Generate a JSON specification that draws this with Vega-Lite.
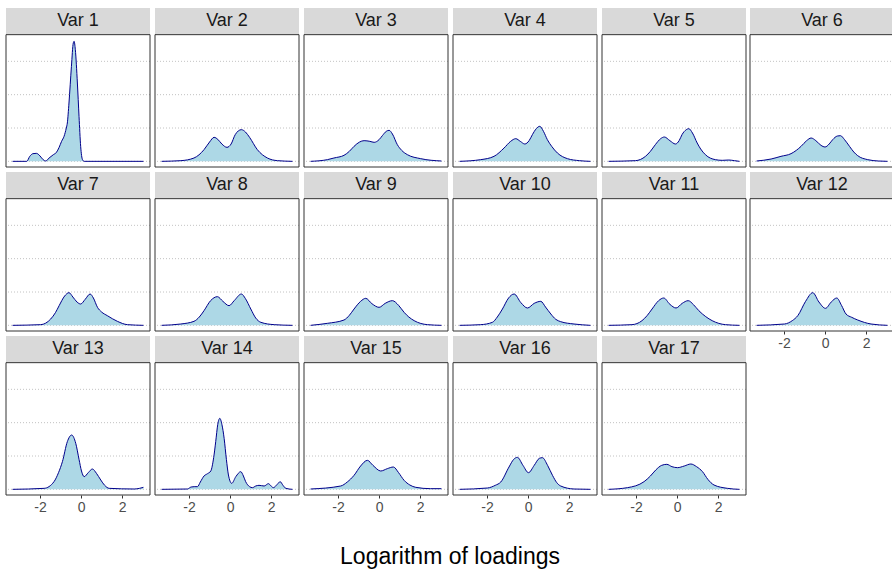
{
"$schema": "https://vega.github.io/schema/vega-lite/v6.json",
"background": "white",
"padding": {"left": 5, "top": 8, "right": 0, "bottom": 0},
"spacing": 2,
"config": {"font": "Liberation Sans", "header": {"labels": false, "title": null, "labelFontSize": 0, "labelPadding": 0, "titlePadding": 0}},
"title": {"text": "Logarithm of loadings", "orient": "bottom", "anchor": "middle", "fontSize": 23, "fontWeight": "normal", "color": "#000000", "baseline": "top", "offset": 32},
"data": {"values": [
{"v":"Var 1","x":-3.34,"y":0},{"v":"Var 1","x":-2.65,"y":0},{"v":"Var 1","x":-2.5,"y":0.15},{"v":"Var 1","x":-2.35,"y":0.23},{"v":"Var 1","x":-2.18,"y":0.24},{"v":"Var 1","x":-2.0,"y":0.16},{"v":"Var 1","x":-1.85,"y":0.05},{"v":"Var 1","x":-1.72,"y":0.01},{"v":"Var 1","x":-1.56,"y":0.1},{"v":"Var 1","x":-1.35,"y":0.2},{"v":"Var 1","x":-1.2,"y":0.27},{"v":"Var 1","x":-1.07,"y":0.42},{"v":"Var 1","x":-0.95,"y":0.6},{"v":"Var 1","x":-0.83,"y":0.75},{"v":"Var 1","x":-0.72,"y":1.0},{"v":"Var 1","x":-0.67,"y":1.15},{"v":"Var 1","x":-0.59,"y":1.75},{"v":"Var 1","x":-0.47,"y":2.85},{"v":"Var 1","x":-0.38,"y":3.55},{"v":"Var 1","x":-0.34,"y":3.6},{"v":"Var 1","x":-0.28,"y":3.35},{"v":"Var 1","x":-0.18,"y":2.35},{"v":"Var 1","x":-0.1,"y":1.35},{"v":"Var 1","x":-0.02,"y":0.45},{"v":"Var 1","x":0.07,"y":0.05},{"v":"Var 1","x":0.15,"y":0},{"v":"Var 1","x":3.04,"y":0},
{"v":"Var 2","x":-3.34,"y":0},{"v":"Var 2","x":-2.4,"y":0.02},{"v":"Var 2","x":-1.76,"y":0.1},{"v":"Var 2","x":-1.27,"y":0.35},{"v":"Var 2","x":-1.0,"y":0.58},{"v":"Var 2","x":-0.78,"y":0.72},{"v":"Var 2","x":-0.6,"y":0.66},{"v":"Var 2","x":-0.4,"y":0.52},{"v":"Var 2","x":-0.15,"y":0.42},{"v":"Var 2","x":0.05,"y":0.52},{"v":"Var 2","x":0.25,"y":0.8},{"v":"Var 2","x":0.55,"y":0.95},{"v":"Var 2","x":0.75,"y":0.88},{"v":"Var 2","x":0.95,"y":0.72},{"v":"Var 2","x":1.33,"y":0.35},{"v":"Var 2","x":1.82,"y":0.1},{"v":"Var 2","x":2.31,"y":0.02},{"v":"Var 2","x":3.04,"y":0},
{"v":"Var 3","x":-3.34,"y":0},{"v":"Var 3","x":-2.52,"y":0.05},{"v":"Var 3","x":-2.2,"y":0.1},{"v":"Var 3","x":-1.71,"y":0.18},{"v":"Var 3","x":-1.45,"y":0.3},{"v":"Var 3","x":-1.22,"y":0.45},{"v":"Var 3","x":-0.95,"y":0.58},{"v":"Var 3","x":-0.73,"y":0.62},{"v":"Var 3","x":-0.45,"y":0.6},{"v":"Var 3","x":-0.24,"y":0.57},{"v":"Var 3","x":0.0,"y":0.65},{"v":"Var 3","x":0.16,"y":0.77},{"v":"Var 3","x":0.35,"y":0.9},{"v":"Var 3","x":0.49,"y":0.93},{"v":"Var 3","x":0.65,"y":0.82},{"v":"Var 3","x":0.89,"y":0.5},{"v":"Var 3","x":1.1,"y":0.33},{"v":"Var 3","x":1.38,"y":0.2},{"v":"Var 3","x":2.03,"y":0.08},{"v":"Var 3","x":3.04,"y":0.01},
{"v":"Var 4","x":-3.34,"y":0},{"v":"Var 4","x":-2.31,"y":0.05},{"v":"Var 4","x":-1.66,"y":0.15},{"v":"Var 4","x":-1.17,"y":0.4},{"v":"Var 4","x":-0.85,"y":0.6},{"v":"Var 4","x":-0.6,"y":0.68},{"v":"Var 4","x":-0.38,"y":0.6},{"v":"Var 4","x":-0.16,"y":0.52},{"v":"Var 4","x":0.05,"y":0.62},{"v":"Var 4","x":0.21,"y":0.8},{"v":"Var 4","x":0.4,"y":0.98},{"v":"Var 4","x":0.57,"y":1.05},{"v":"Var 4","x":0.75,"y":0.9},{"v":"Var 4","x":0.94,"y":0.65},{"v":"Var 4","x":1.15,"y":0.45},{"v":"Var 4","x":1.43,"y":0.25},{"v":"Var 4","x":1.92,"y":0.08},{"v":"Var 4","x":2.5,"y":0.02},{"v":"Var 4","x":3.04,"y":0},
{"v":"Var 5","x":-3.34,"y":0},{"v":"Var 5","x":-2.03,"y":0.02},{"v":"Var 5","x":-1.54,"y":0.15},{"v":"Var 5","x":-1.3,"y":0.3},{"v":"Var 5","x":-1.06,"y":0.5},{"v":"Var 5","x":-0.8,"y":0.68},{"v":"Var 5","x":-0.62,"y":0.73},{"v":"Var 5","x":-0.35,"y":0.62},{"v":"Var 5","x":-0.08,"y":0.52},{"v":"Var 5","x":0.1,"y":0.62},{"v":"Var 5","x":0.24,"y":0.8},{"v":"Var 5","x":0.45,"y":0.95},{"v":"Var 5","x":0.57,"y":0.98},{"v":"Var 5","x":0.75,"y":0.85},{"v":"Var 5","x":0.98,"y":0.55},{"v":"Var 5","x":1.15,"y":0.37},{"v":"Var 5","x":1.38,"y":0.2},{"v":"Var 5","x":1.87,"y":0.05},{"v":"Var 5","x":2.2,"y":0.03},{"v":"Var 5","x":2.52,"y":0.04},{"v":"Var 5","x":2.8,"y":0.02},{"v":"Var 5","x":3.04,"y":0},
{"v":"Var 6","x":-3.34,"y":0.01},{"v":"Var 6","x":-2.63,"y":0.07},{"v":"Var 6","x":-2.15,"y":0.15},{"v":"Var 6","x":-1.66,"y":0.23},{"v":"Var 6","x":-1.4,"y":0.33},{"v":"Var 6","x":-1.17,"y":0.45},{"v":"Var 6","x":-0.9,"y":0.62},{"v":"Var 6","x":-0.68,"y":0.7},{"v":"Var 6","x":-0.45,"y":0.62},{"v":"Var 6","x":-0.2,"y":0.48},{"v":"Var 6","x":0.0,"y":0.43},{"v":"Var 6","x":0.2,"y":0.52},{"v":"Var 6","x":0.37,"y":0.65},{"v":"Var 6","x":0.6,"y":0.76},{"v":"Var 6","x":0.75,"y":0.77},{"v":"Var 6","x":0.95,"y":0.65},{"v":"Var 6","x":1.19,"y":0.45},{"v":"Var 6","x":1.4,"y":0.28},{"v":"Var 6","x":1.59,"y":0.17},{"v":"Var 6","x":2.08,"y":0.05},{"v":"Var 6","x":2.6,"y":0.01},{"v":"Var 6","x":3.04,"y":0},
{"v":"Var 7","x":-3.34,"y":0},{"v":"Var 7","x":-1.97,"y":0.02},{"v":"Var 7","x":-1.48,"y":0.19},{"v":"Var 7","x":-1.25,"y":0.38},{"v":"Var 7","x":-1.07,"y":0.59},{"v":"Var 7","x":-0.8,"y":0.88},{"v":"Var 7","x":-0.59,"y":0.98},{"v":"Var 7","x":-0.4,"y":0.85},{"v":"Var 7","x":-0.2,"y":0.7},{"v":"Var 7","x":-0.02,"y":0.64},{"v":"Var 7","x":0.2,"y":0.78},{"v":"Var 7","x":0.44,"y":0.94},{"v":"Var 7","x":0.6,"y":0.82},{"v":"Var 7","x":0.8,"y":0.54},{"v":"Var 7","x":1.0,"y":0.4},{"v":"Var 7","x":1.28,"y":0.29},{"v":"Var 7","x":1.77,"y":0.12},{"v":"Var 7","x":2.26,"y":0.02},{"v":"Var 7","x":3.04,"y":0},
{"v":"Var 8","x":-3.34,"y":0},{"v":"Var 8","x":-2.4,"y":0.04},{"v":"Var 8","x":-1.76,"y":0.12},{"v":"Var 8","x":-1.5,"y":0.25},{"v":"Var 8","x":-1.27,"y":0.44},{"v":"Var 8","x":-0.95,"y":0.74},{"v":"Var 8","x":-0.62,"y":0.86},{"v":"Var 8","x":-0.35,"y":0.72},{"v":"Var 8","x":-0.05,"y":0.59},{"v":"Var 8","x":0.2,"y":0.74},{"v":"Var 8","x":0.55,"y":0.94},{"v":"Var 8","x":0.75,"y":0.8},{"v":"Var 8","x":1.01,"y":0.49},{"v":"Var 8","x":1.25,"y":0.22},{"v":"Var 8","x":1.5,"y":0.09},{"v":"Var 8","x":2.15,"y":0.02},{"v":"Var 8","x":3.04,"y":0},
{"v":"Var 9","x":-3.34,"y":0},{"v":"Var 9","x":-2.52,"y":0.06},{"v":"Var 9","x":-1.71,"y":0.16},{"v":"Var 9","x":-1.45,"y":0.3},{"v":"Var 9","x":-1.22,"y":0.49},{"v":"Var 9","x":-0.9,"y":0.72},{"v":"Var 9","x":-0.65,"y":0.81},{"v":"Var 9","x":-0.35,"y":0.65},{"v":"Var 9","x":0.0,"y":0.54},{"v":"Var 9","x":0.3,"y":0.66},{"v":"Var 9","x":0.65,"y":0.74},{"v":"Var 9","x":0.95,"y":0.6},{"v":"Var 9","x":1.22,"y":0.39},{"v":"Var 9","x":1.45,"y":0.25},{"v":"Var 9","x":1.71,"y":0.14},{"v":"Var 9","x":2.36,"y":0.02},{"v":"Var 9","x":3.04,"y":0},
{"v":"Var 10","x":-3.34,"y":0},{"v":"Var 10","x":-2.31,"y":0.02},{"v":"Var 10","x":-1.74,"y":0.09},{"v":"Var 10","x":-1.5,"y":0.25},{"v":"Var 10","x":-1.25,"y":0.49},{"v":"Var 10","x":-0.95,"y":0.82},{"v":"Var 10","x":-0.68,"y":0.94},{"v":"Var 10","x":-0.35,"y":0.68},{"v":"Var 10","x":-0.03,"y":0.52},{"v":"Var 10","x":0.3,"y":0.66},{"v":"Var 10","x":0.62,"y":0.72},{"v":"Var 10","x":0.85,"y":0.55},{"v":"Var 10","x":1.11,"y":0.34},{"v":"Var 10","x":1.35,"y":0.18},{"v":"Var 10","x":1.59,"y":0.11},{"v":"Var 10","x":2.24,"y":0.04},{"v":"Var 10","x":3.04,"y":0},
{"v":"Var 11","x":-3.34,"y":0},{"v":"Var 11","x":-2.2,"y":0.02},{"v":"Var 11","x":-1.71,"y":0.14},{"v":"Var 11","x":-1.45,"y":0.3},{"v":"Var 11","x":-1.22,"y":0.49},{"v":"Var 11","x":-0.9,"y":0.74},{"v":"Var 11","x":-0.65,"y":0.82},{"v":"Var 11","x":-0.35,"y":0.63},{"v":"Var 11","x":-0.05,"y":0.52},{"v":"Var 11","x":0.25,"y":0.66},{"v":"Var 11","x":0.54,"y":0.74},{"v":"Var 11","x":0.8,"y":0.62},{"v":"Var 11","x":1.06,"y":0.44},{"v":"Var 11","x":1.4,"y":0.26},{"v":"Var 11","x":1.71,"y":0.14},{"v":"Var 11","x":2.36,"y":0.02},{"v":"Var 11","x":3.04,"y":0},
{"v":"Var 12","x":-3.34,"y":0},{"v":"Var 12","x":-1.98,"y":0.04},{"v":"Var 12","x":-1.6,"y":0.14},{"v":"Var 12","x":-1.33,"y":0.29},{"v":"Var 12","x":-0.95,"y":0.72},{"v":"Var 12","x":-0.6,"y":0.98},{"v":"Var 12","x":-0.3,"y":0.7},{"v":"Var 12","x":0.02,"y":0.51},{"v":"Var 12","x":0.3,"y":0.7},{"v":"Var 12","x":0.57,"y":0.82},{"v":"Var 12","x":0.8,"y":0.6},{"v":"Var 12","x":1.02,"y":0.34},{"v":"Var 12","x":1.3,"y":0.24},{"v":"Var 12","x":1.59,"y":0.16},{"v":"Var 12","x":2.24,"y":0.04},{"v":"Var 12","x":3.04,"y":0},
{"v":"Var 13","x":-3.34,"y":0},{"v":"Var 13","x":-1.8,"y":0.03},{"v":"Var 13","x":-1.32,"y":0.23},{"v":"Var 13","x":-1.1,"y":0.5},{"v":"Var 13","x":-0.91,"y":0.83},{"v":"Var 13","x":-0.67,"y":1.43},{"v":"Var 13","x":-0.46,"y":1.63},{"v":"Var 13","x":-0.26,"y":1.38},{"v":"Var 13","x":-0.1,"y":0.9},{"v":"Var 13","x":0.02,"y":0.55},{"v":"Var 13","x":0.15,"y":0.38},{"v":"Var 13","x":0.35,"y":0.5},{"v":"Var 13","x":0.55,"y":0.61},{"v":"Var 13","x":0.75,"y":0.48},{"v":"Var 13","x":0.96,"y":0.28},{"v":"Var 13","x":1.15,"y":0.12},{"v":"Var 13","x":1.37,"y":0.03},{"v":"Var 13","x":2.59,"y":0.01},{"v":"Var 13","x":2.85,"y":0.03},{"v":"Var 13","x":3.04,"y":0.06},
{"v":"Var 14","x":-3.34,"y":0},{"v":"Var 14","x":-2.08,"y":0.01},{"v":"Var 14","x":-1.9,"y":0.07},{"v":"Var 14","x":-1.75,"y":0.08},{"v":"Var 14","x":-1.59,"y":0.08},{"v":"Var 14","x":-1.45,"y":0.22},{"v":"Var 14","x":-1.27,"y":0.4},{"v":"Var 14","x":-1.1,"y":0.47},{"v":"Var 14","x":-0.94,"y":0.55},{"v":"Var 14","x":-0.8,"y":0.95},{"v":"Var 14","x":-0.7,"y":1.43},{"v":"Var 14","x":-0.6,"y":1.95},{"v":"Var 14","x":-0.5,"y":2.13},{"v":"Var 14","x":-0.4,"y":1.95},{"v":"Var 14","x":-0.29,"y":1.53},{"v":"Var 14","x":-0.18,"y":0.9},{"v":"Var 14","x":-0.08,"y":0.43},{"v":"Var 14","x":0.08,"y":0.18},{"v":"Var 14","x":0.28,"y":0.38},{"v":"Var 14","x":0.52,"y":0.53},{"v":"Var 14","x":0.65,"y":0.4},{"v":"Var 14","x":0.76,"y":0.23},{"v":"Var 14","x":0.95,"y":0.08},{"v":"Var 14","x":1.09,"y":0.05},{"v":"Var 14","x":1.25,"y":0.1},{"v":"Var 14","x":1.41,"y":0.12},{"v":"Var 14","x":1.66,"y":0.1},{"v":"Var 14","x":1.87,"y":0.17},{"v":"Var 14","x":2.0,"y":0.1},{"v":"Var 14","x":2.11,"y":0.05},{"v":"Var 14","x":2.3,"y":0.15},{"v":"Var 14","x":2.44,"y":0.23},{"v":"Var 14","x":2.58,"y":0.12},{"v":"Var 14","x":2.72,"y":0.03},{"v":"Var 14","x":3.04,"y":0},
{"v":"Var 15","x":-3.34,"y":0.01},{"v":"Var 15","x":-1.87,"y":0.1},{"v":"Var 15","x":-1.55,"y":0.22},{"v":"Var 15","x":-1.22,"y":0.42},{"v":"Var 15","x":-0.9,"y":0.7},{"v":"Var 15","x":-0.57,"y":0.87},{"v":"Var 15","x":-0.3,"y":0.72},{"v":"Var 15","x":0.08,"y":0.55},{"v":"Var 15","x":0.4,"y":0.62},{"v":"Var 15","x":0.7,"y":0.67},{"v":"Var 15","x":0.95,"y":0.5},{"v":"Var 15","x":1.22,"y":0.27},{"v":"Var 15","x":1.5,"y":0.13},{"v":"Var 15","x":1.79,"y":0.06},{"v":"Var 15","x":2.5,"y":0.02},{"v":"Var 15","x":3.04,"y":0.02},
{"v":"Var 16","x":-3.34,"y":0},{"v":"Var 16","x":-1.98,"y":0.04},{"v":"Var 16","x":-1.6,"y":0.12},{"v":"Var 16","x":-1.33,"y":0.22},{"v":"Var 16","x":-0.93,"y":0.67},{"v":"Var 16","x":-0.7,"y":0.9},{"v":"Var 16","x":-0.52,"y":0.96},{"v":"Var 16","x":-0.25,"y":0.72},{"v":"Var 16","x":0.02,"y":0.5},{"v":"Var 16","x":0.3,"y":0.72},{"v":"Var 16","x":0.55,"y":0.93},{"v":"Var 16","x":0.7,"y":0.95},{"v":"Var 16","x":0.95,"y":0.72},{"v":"Var 16","x":1.19,"y":0.42},{"v":"Var 16","x":1.4,"y":0.2},{"v":"Var 16","x":1.59,"y":0.1},{"v":"Var 16","x":2.24,"y":0.01},{"v":"Var 16","x":3.04,"y":0},
{"v":"Var 17","x":-3.34,"y":0},{"v":"Var 17","x":-2.42,"y":0.05},{"v":"Var 17","x":-1.61,"y":0.23},{"v":"Var 17","x":-1.3,"y":0.4},{"v":"Var 17","x":-1.04,"y":0.58},{"v":"Var 17","x":-0.75,"y":0.72},{"v":"Var 17","x":-0.5,"y":0.75},{"v":"Var 17","x":-0.25,"y":0.68},{"v":"Var 17","x":0.02,"y":0.65},{"v":"Var 17","x":0.35,"y":0.7},{"v":"Var 17","x":0.67,"y":0.76},{"v":"Var 17","x":0.95,"y":0.68},{"v":"Var 17","x":1.24,"y":0.53},{"v":"Var 17","x":1.5,"y":0.3},{"v":"Var 17","x":1.8,"y":0.13},{"v":"Var 17","x":2.45,"y":0.03},{"v":"Var 17","x":3.04,"y":0}
]},
"hconcat": [
{
"transform": [{"filter": "datum.v != 'Var 6' && datum.v != 'Var 12'"}],
"bounds": "flush",
"facet": {"field": "v", "type": "nominal", "sort": ["Var 1","Var 2","Var 3","Var 4","Var 5","Var 7","Var 8","Var 9","Var 10","Var 11","Var 13","Var 14","Var 15","Var 16","Var 17"], "header": {"title": null, "labels": false, "labelFontSize": 0, "labelPadding": 0}, "title": null},
"columns": 5,
"spacing": {"row": 5, "column": 5},
"spec": {
  "width": 144,
  "height": 159,
  "view": {"stroke": null},
  "layer": [
    {"transform": [{"filter": "datum.x == -3.34"}], "mark": {"type": "rule", "color": "#B3B3B3", "strokeDash": [1, 2], "strokeWidth": 0.8}, "encoding": {"y": {"datum": 0, "type": "quantitative", "axis": null}}},
    {"transform": [{"filter": "datum.x == -3.34"}], "mark": {"type": "rule", "color": "#B3B3B3", "strokeDash": [1, 2], "strokeWidth": 0.8}, "encoding": {"y": {"datum": 1, "type": "quantitative", "axis": null}}},
    {"transform": [{"filter": "datum.x == -3.34"}], "mark": {"type": "rule", "color": "#B3B3B3", "strokeDash": [1, 2], "strokeWidth": 0.8}, "encoding": {"y": {"datum": 2, "type": "quantitative", "axis": null}}},
    {"transform": [{"filter": "datum.x == -3.34"}], "mark": {"type": "rule", "color": "#B3B3B3", "strokeDash": [1, 2], "strokeWidth": 0.8}, "encoding": {"y": {"datum": 3, "type": "quantitative", "axis": null}}},
    {
      "mark": {"type": "area", "color": "#ADD8E6", "opacity": 1, "fillOpacity": 1, "interpolate": "monotone", "line": {"color": "#00008B", "strokeWidth": 1}},
      "encoding": {
        "x": {"field": "x", "type": "quantitative", "scale": {"domain": [-3.66, 3.36], "nice": false, "zero": false},
              "axis": {"title": null, "values": [-2, 0, 2], "labelExpr": "datum.value < 0 ? '-' + abs(datum.value) : '' + datum.value", "grid": false, "domain": false, "tickColor": "#333333", "tickSize": 3, "labelColor": "#4D4D4D", "labelFontSize": 14, "labelPadding": 2}},
        "y": {"field": "y", "type": "quantitative", "scale": {"domain": [-0.17, 4.6], "nice": false, "zero": false}, "axis": null}
      }
    },
    {
      "transform": [{"filter": "datum.x == -3.34"}],
      "mark": {"type": "rect", "fill": "#D9D9D9", "strokeWidth": 0},
      "encoding": {"x": {"datum": -3.66, "type": "quantitative", "title": null}, "x2": {"datum": 3.36}, "y": {"datum": 3.8, "type": "quantitative", "axis": null}, "y2": {"datum": 4.6}}
    },
    {
      "transform": [{"filter": "datum.x == -3.34"}],
      "mark": {"type": "rect", "fill": null, "fillOpacity": 0, "stroke": "#333333", "strokeWidth": 1},
      "encoding": {"x": {"datum": -3.66, "type": "quantitative", "title": null}, "x2": {"datum": 3.36}, "y": {"datum": -0.17, "type": "quantitative", "axis": null}, "y2": {"datum": 3.8}}
    },
    {
      "transform": [{"filter": "datum.x == -3.34"}],
      "mark": {"type": "text", "fontSize": 18, "color": "#1A1A1A", "baseline": "middle", "align": "center"},
      "encoding": {"x": {"datum": -0.15, "type": "quantitative", "title": null}, "y": {"datum": 4.2, "type": "quantitative", "axis": null}, "text": {"field": "v"}}
    }
  ]
}
},
{
"transform": [{"filter": "datum.v == 'Var 6' || datum.v == 'Var 12'"}],
"bounds": "flush",
"facet": {"field": "v", "type": "nominal", "sort": ["Var 6","Var 12"], "header": {"title": null, "labels": false, "labelFontSize": 0, "labelPadding": 0}, "title": null},
"columns": 1,
"spacing": {"row": 5, "column": 5},
"spec": {
  "width": 144,
  "height": 159,
  "view": {"stroke": null},
  "layer": [
    {"transform": [{"filter": "datum.x == -3.34"}], "mark": {"type": "rule", "color": "#B3B3B3", "strokeDash": [1, 2], "strokeWidth": 0.8}, "encoding": {"y": {"datum": 0, "type": "quantitative", "axis": null}}},
    {"transform": [{"filter": "datum.x == -3.34"}], "mark": {"type": "rule", "color": "#B3B3B3", "strokeDash": [1, 2], "strokeWidth": 0.8}, "encoding": {"y": {"datum": 1, "type": "quantitative", "axis": null}}},
    {"transform": [{"filter": "datum.x == -3.34"}], "mark": {"type": "rule", "color": "#B3B3B3", "strokeDash": [1, 2], "strokeWidth": 0.8}, "encoding": {"y": {"datum": 2, "type": "quantitative", "axis": null}}},
    {"transform": [{"filter": "datum.x == -3.34"}], "mark": {"type": "rule", "color": "#B3B3B3", "strokeDash": [1, 2], "strokeWidth": 0.8}, "encoding": {"y": {"datum": 3, "type": "quantitative", "axis": null}}},
    {
      "mark": {"type": "area", "color": "#ADD8E6", "opacity": 1, "fillOpacity": 1, "interpolate": "monotone", "line": {"color": "#00008B", "strokeWidth": 1}},
      "encoding": {
        "x": {"field": "x", "type": "quantitative", "scale": {"domain": [-3.66, 3.36], "nice": false, "zero": false},
              "axis": {"title": null, "values": [-2, 0, 2], "labelExpr": "datum.value < 0 ? '-' + abs(datum.value) : '' + datum.value", "grid": false, "domain": false, "tickColor": "#333333", "tickSize": 3, "labelColor": "#4D4D4D", "labelFontSize": 14, "labelPadding": 2}},
        "y": {"field": "y", "type": "quantitative", "scale": {"domain": [-0.17, 4.6], "nice": false, "zero": false}, "axis": null}
      }
    },
    {
      "transform": [{"filter": "datum.x == -3.34"}],
      "mark": {"type": "rect", "fill": "#D9D9D9", "strokeWidth": 0},
      "encoding": {"x": {"datum": -3.66, "type": "quantitative", "title": null}, "x2": {"datum": 3.36}, "y": {"datum": 3.8, "type": "quantitative", "axis": null}, "y2": {"datum": 4.6}}
    },
    {
      "transform": [{"filter": "datum.x == -3.34"}],
      "mark": {"type": "rect", "fill": null, "fillOpacity": 0, "stroke": "#333333", "strokeWidth": 1},
      "encoding": {"x": {"datum": -3.66, "type": "quantitative", "title": null}, "x2": {"datum": 3.36}, "y": {"datum": -0.17, "type": "quantitative", "axis": null}, "y2": {"datum": 3.8}}
    },
    {
      "transform": [{"filter": "datum.x == -3.34"}],
      "mark": {"type": "text", "fontSize": 18, "color": "#1A1A1A", "baseline": "middle", "align": "center"},
      "encoding": {"x": {"datum": -0.15, "type": "quantitative", "title": null}, "y": {"datum": 4.2, "type": "quantitative", "axis": null}, "text": {"field": "v"}}
    }
  ]
}
}
]
}
